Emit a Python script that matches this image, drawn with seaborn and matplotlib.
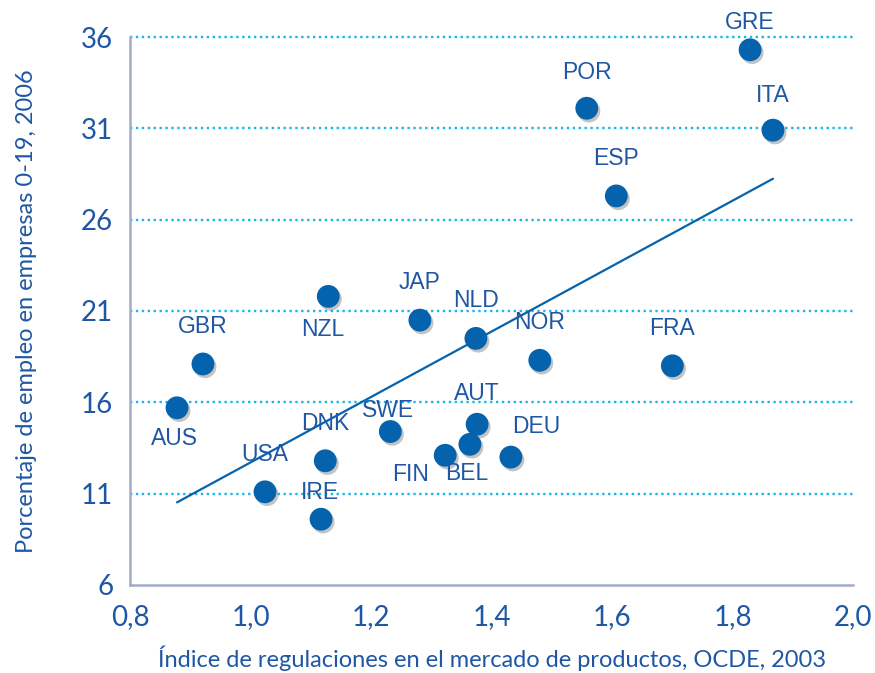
import numpy as np
import pandas as pd
import matplotlib
matplotlib.use("Agg")
import matplotlib.pyplot as plt
import matplotlib.patheffects as pe
from matplotlib.ticker import FuncFormatter
import seaborn as sns

# Data
countries = ["GRE", "ITA", "POR", "ESP", "FRA", "NOR", "NLD", "JAP", "NZL", "GBR",
             "AUS", "USA", "IRE", "DNK", "SWE", "FIN", "BEL", "AUT", "DEU"]
regulation = [1.829, 1.867, 1.558, 1.607, 1.700, 1.480, 1.374, 1.281, 1.129, 0.921,
              0.878, 1.024, 1.117, 1.124, 1.232, 1.323, 1.364, 1.376, 1.432]
employment = [35.3, 30.9, 32.1, 27.3, 18.0, 18.3, 19.5, 20.5, 21.8, 18.1,
              15.7, 11.1, 9.6, 12.8, 14.4, 13.1, 13.7, 14.8, 13.0]

# label offsets (points) relative to each dot
label_dx = [0, 0, 0, 0, 0, 0, 0, 0, -4, 0, -2, 0, -1, 0, -2, -25, -2, 0, 18]
label_dy = [20, 25, 26, 27, 27, 27, 27, 27, -24, 27, -22, 27, 19, 27, 15, -14, -21, 22, 22]

df = pd.DataFrame({"pais": countries, "x": regulation, "y": employment})

BLUE = "#0563AD"
TEXT = "#1F57A4"
GRID = "#18B6EA"
SPINE = "#A3AAC8"

sns.set_theme(style="white")
plt.rcParams["font.family"] = ["Lato", "DejaVu Sans"]

fig = plt.figure(figsize=(8.75, 6.73), dpi=100)
ax = fig.add_axes([0.1486, 0.1308, 0.8264, 0.8142])

for yv in range(11, 37, 5):
    ax.axhline(yv, color=GRID, lw=1.7, ls=(0, (1, 1.5)), zorder=0, clip_on=False)

sns.regplot(data=df, x="x", y="y", ax=ax, scatter=False, ci=None, truncate=True,
            line_kws={"color": BLUE, "lw": 1.6, "zorder": 2})

sns.scatterplot(data=df, x="x", y="y", ax=ax, s=270, color=BLUE, edgecolor="none",
                zorder=3, clip_on=False,
                path_effects=[pe.SimplePatchShadow(offset=(1.5, -2), alpha=0.35, shadow_rgbFace="#555555"),
                              pe.Normal()])

for name, xv, yv, dx, dy in zip(countries, regulation, employment, label_dx, label_dy):
    ax.annotate(name, (xv, yv), xytext=(dx, dy), textcoords="offset points",
                ha="center", va="center", fontsize=16.5, color=TEXT,
                family=["Liberation Sans", "DejaVu Sans"], zorder=4,
                annotation_clip=False)

ax.set_xlim(0.8, 2.0)
ax.set_ylim(6, 36)
ax.set_xticks(np.arange(0.8, 2.01, 0.2))
ax.set_yticks(range(6, 37, 5))
ax.xaxis.set_major_formatter(FuncFormatter(lambda v, p: f"{v:.1f}".replace(".", ",")))

for side in ["top", "right"]:
    ax.spines[side].set_visible(False)
for side in ["left", "bottom"]:
    ax.spines[side].set_color(SPINE)
    ax.spines[side].set_linewidth(1.8)

ax.tick_params(axis="both", colors=SPINE, length=6, width=1.8, direction="out",
               labelcolor=TEXT, labelsize=20, pad=6)
ax.tick_params(axis="x", pad=8)

ax.set_xlabel("Índice de regulaciones en el mercado de productos, OCDE, 2003",
              color=TEXT, fontsize=17, labelpad=11)
ax.set_ylabel("Porcentaje de empleo en empresas 0-19, 2006",
              color=TEXT, fontsize=17, labelpad=32)

fig.savefig("out.png", dpi=100)
